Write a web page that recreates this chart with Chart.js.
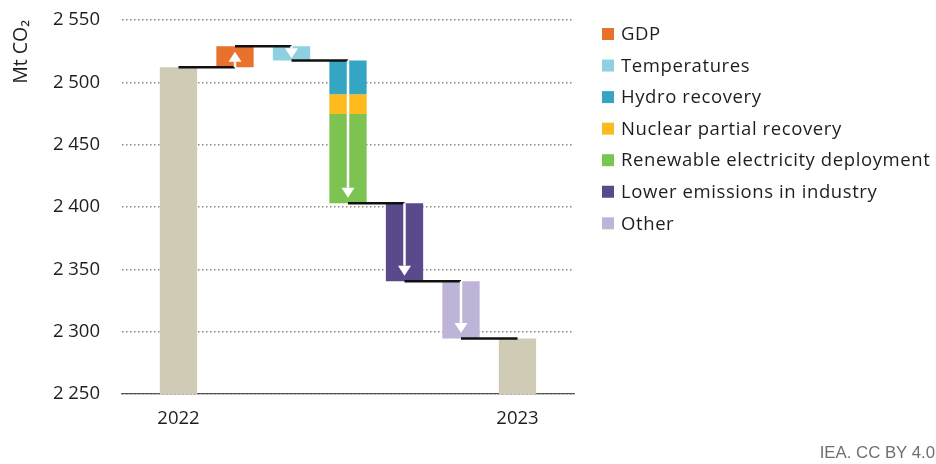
<!DOCTYPE html>
<html>
<head>
<meta charset="utf-8">
<script src="https://cdn.jsdelivr.net/npm/chart.js@4.4.1/dist/chart.umd.min.js"></script>
<style>
  html, body { margin: 0; padding: 0; background: #fff; }
  #wrap { position: relative; width: 936px; height: 464px; }
  #source { position: absolute; right: 1px; bottom: 1px; font: 16.8px "Liberation Sans", Arial, sans-serif; color: #6f6f6f; }
</style>
</head>
<body>
<div id="wrap">
  <canvas id="waterfall" width="936" height="464"></canvas>
  <div id="source">IEA. CC BY 4.0</div>
</div>
<script>
// x columns: first and last are empty slots so the bars sit like the original
const columnLabels = ['', '2022', '', '', '', '', '', '2023', ''];

// totals (Mt CO2)
const totalColumns = [1, 7];
const totalValues = [2512, 2294.5];

// drivers of the change between the two years, as start / end levels
const stepNames = ['GDP', 'Temperatures', 'Hydro recovery', 'Nuclear partial recovery',
  'Renewable electricity deployment', 'Lower emissions in industry', 'Other'];
const stepColumns = [2, 3, 4, 4, 4, 5, 6];
const stepFrom = [2512, 2529, 2517.5, 2490.5, 2474.5, 2403, 2340.5];
const stepTo = [2529, 2517.5, 2490.5, 2474.5, 2403, 2340.5, 2294.5];
const stepColors = ['#e8712b', '#8fd0e0', '#35a5c4', '#fdba1c', '#7cc352', '#5b4a8b', '#beb4d8'];
const totalColor = '#cfcbb4';

const yTicks = [2250, 2300, 2350, 2400, 2450, 2500, 2550];

const fontFamily = '"Open Sans", Lato, sans-serif';
const textColor = '#1e1e1e';

// bar datasets: totals first, then one floating bar per driver
const datasets = [{
    label: 'Total',
    data: columnLabels.map((_, i) => {
        const k = totalColumns.indexOf(i);
        return k >= 0 ? totalValues[k] : null;
    }),
    backgroundColor: totalColor
}];
stepNames.forEach((name, s) => {
    datasets.push({
        label: name,
        data: columnLabels.map((_, i) => i === stepColumns[s] ? [stepTo[s], stepFrom[s]] : null),
        backgroundColor: stepColors[s]
    });
});

// black connectors between bars + white arrows inside the drivers
const bridgePlugin = {
    id: 'bridges',
    afterDatasetsDraw(chart) {
        const { ctx, scales: { x, y } } = chart;

        // level where each column ends
        const ends = {};
        totalColumns.forEach((c, k) => { ends[c] = totalValues[k]; });
        stepColumns.forEach((c, s) => { ends[c] = stepTo[s]; });
        const cols = Object.keys(ends).map(Number).sort((a, b) => a - b);

        ctx.save();
        ctx.strokeStyle = '#111';
        ctx.lineWidth = 2.5;
        for (let i = 0; i < cols.length - 1; i++) {
            const yy = y.getPixelForValue(ends[cols[i]]);
            ctx.beginPath();
            ctx.moveTo(x.getPixelForValue(cols[i]), yy);
            ctx.lineTo(x.getPixelForValue(cols[i + 1]), yy);
            ctx.stroke();
        }

        // arrows, one per driver column
        const seen = [...new Set(stepColumns)];
        ctx.strokeStyle = '#fff';
        ctx.fillStyle = '#fff';
        ctx.lineWidth = 2.5;
        seen.forEach(c => {
            const first = stepColumns.indexOf(c);
            const last = stepColumns.lastIndexOf(c);
            const cx = x.getPixelForValue(c);
            const y0 = y.getPixelForValue(stepFrom[first]);
            const y1 = y.getPixelForValue(stepTo[last]);
            const dir = Math.sign(y1 - y0);
            const len = Math.abs(y1 - y0);
            const head = 10;
            const inset = Math.min(5.5, Math.max(1, (len - head) / 2));
            const tip = y1 - dir * inset;
            const base = tip - dir * head;
            if (Math.abs(base - y0) > 1) {
                ctx.beginPath();
                ctx.moveTo(cx, y0);
                ctx.lineTo(cx, base);
                ctx.stroke();
            }
            ctx.beginPath();
            ctx.moveTo(cx, tip);
            ctx.lineTo(cx - 6.5, base);
            ctx.lineTo(cx + 6.5, base);
            ctx.closePath();
            ctx.fill();
        });
        ctx.restore();
    }
};

// legend on the right, built from the driver datasets
const sideLegend = {
    id: 'sideLegend',
    afterDraw(chart) {
        const { ctx, chartArea } = chart;
        const left = chartArea.right + 28;
        ctx.save();
        ctx.font = '18.5px ' + fontFamily;
        ctx.letterSpacing = '0.6px';
        ctx.textBaseline = 'middle';
        stepNames.forEach((name, s) => {
            const cy = chartArea.top + 14 + s * 31.55;
            ctx.fillStyle = stepColors[s];
            ctx.fillRect(left, cy - 6, 12, 12);
            ctx.fillStyle = textColor;
            ctx.fillText(name, left + 19, cy + 1);
        });
        ctx.restore();
    }
};

new Chart(document.getElementById('waterfall'), {
    type: 'bar',
    data: { labels: columnLabels, datasets: datasets },
    options: {
        responsive: false,
        animation: false,
        devicePixelRatio: 1,
        layout: { padding: { top: 20, right: 362, bottom: 0, left: 0 } },
        datasets: {
            bar: { grouped: false, barPercentage: 0.66, categoryPercentage: 1, borderWidth: 0 }
        },
        plugins: { legend: { display: false }, tooltip: { enabled: false } },
        scales: {
            x: {
                type: 'category',
                offset: false,
                grid: { display: false },
                border: { display: true, color: '#555', width: 1.2 },
                ticks: {
                    autoSkip: false, maxRotation: 0, padding: 6, color: textColor,
                    font: { family: fontFamily, size: 18.5 }
                },
                afterFit(scale) { scale.height = 70; }
            },
            y: {
                min: yTicks[0],
                max: yTicks[yTicks.length - 1],
                afterBuildTicks(scale) { scale.ticks = yTicks.map(v => ({ value: v })); },
                // invisible tick marks give the gap between labels and plot
                grid: { color: '#8a8a8a', lineWidth: 1.5, drawTicks: true, tickLength: 22, tickColor: 'rgba(0,0,0,0)' },
                border: { display: false, dash: [1.5, 2.5] },
                ticks: {
                    padding: 0, color: textColor,
                    font: { family: fontFamily, size: 18.5 },
                    callback: v => String(v).replace(/\B(?=(\d{3})+(?!\d))/g, ' ')
                },
                title: {
                    display: true, text: 'Mt CO₂', align: 'end', color: textColor,
                    font: { family: fontFamily, size: 19.5 },
                    padding: { top: 10, bottom: 0 }
                },
                afterFit(scale) { scale.width = 122; }
            }
        }
    },
    plugins: [bridgePlugin, sideLegend]
});
</script>
</body>
</html>
